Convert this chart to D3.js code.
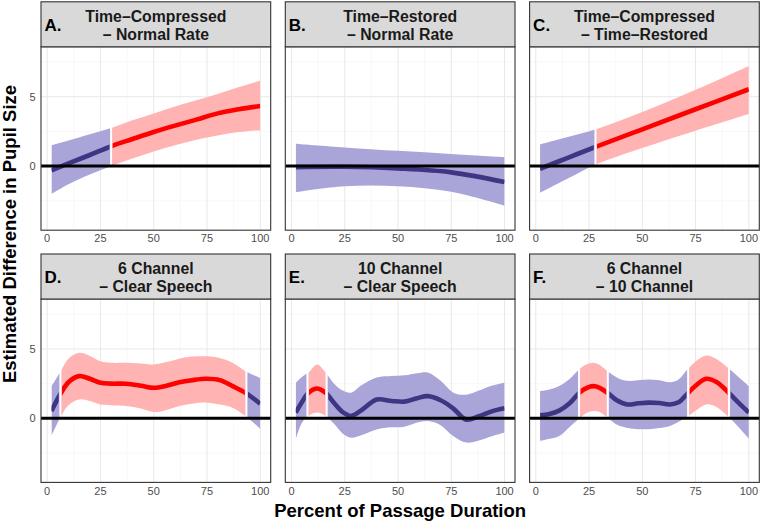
<!DOCTYPE html>
<html><head><meta charset="utf-8">
<script src="https://cdn.jsdelivr.net/npm/d3@7"></script>
<style>
html,body{margin:0;padding:0;background:#fff;}
svg{display:block;font-family:"Liberation Sans",Arial,Helvetica,sans-serif;}
</style></head>
<body><svg id="chart" width="762" height="522"></svg>
<script>
// ---------- data ----------
const xTicks = [0, 25, 50, 75, 100];
const yTicks = [0, 5];
const xLabel = "Percent of Passage Duration";
const yLabel = "Estimated Difference in Pupil Size";
const panelLetters = ["A.", "B.", "C.", "D.", "E.", "F."];
const titleLine1 = ["Time\u2013Compressed", "Time\u2013Restored", "Time\u2013Compressed", "6 Channel", "10 Channel", "6 Channel"];
const titleLine2 = ["\u2013 Normal Rate", "\u2013 Normal Rate", "\u2013 Time\u2013Restored", "\u2013 Clear Speech", "\u2013 Clear Speech", "\u2013 10 Channel"];

// A. Time-Compressed - Normal Rate
const xA   = [2, 10, 20, 30, 40, 50, 60, 70, 80, 90, 100];
const fitA = [-0.3, 0.2, 0.8, 1.43, 1.95, 2.46, 2.92, 3.35, 3.8, 4.1, 4.33];
const loA  = [-2.0, -1.3, -0.6, 0.0, 0.55, 1.05, 1.5, 1.9, 2.2, 2.45, 2.59];
const hiA  = [1.5, 1.85, 2.3, 2.75, 3.3, 3.8, 4.3, 4.75, 5.2, 5.7, 6.16];
const segA = [2, 30, 100];
const sigA = [0, 1];

// B. Time-Restored - Normal Rate
const xB   = [2, 25, 50, 75, 100];
const fitB = [-0.07, -0.05, -0.17, -0.45, -1.15];
const loB  = [-1.88, -1.45, -1.45, -1.85, -2.85];
const hiB  = [1.62, 1.35, 1.1, 0.88, 0.65];
const segB = [2, 100];
const sigB = [0];

// C. Time-Compressed - Time-Restored
const xC   = [2, 15, 28, 50, 75, 100];
const fitC = [-0.19, 0.6, 1.38, 2.65, 4.1, 5.54];
const loC  = [-1.93, -0.9, 0.1, 1.3, 2.55, 3.75];
const hiC  = [1.57, 2.1, 2.64, 3.9, 5.5, 7.22];
const segC = [2, 28, 100];
const sigC = [0, 1];

// D. 6 Channel - Clear Speech
const xD   = [2, 6, 10, 15, 20, 25, 30, 37, 44, 50, 56, 62, 68, 75, 81, 87, 93, 100];
const fitD = [0.52, 1.7, 2.6, 3.04, 2.85, 2.56, 2.5, 2.49, 2.35, 2.2, 2.35, 2.6, 2.75, 2.85, 2.75, 2.32, 1.84, 1.05];
const loD  = [-1.27, 0.0, 0.95, 1.36, 1.25, 1.0, 0.95, 0.88, 0.7, 0.45, 0.6, 0.88, 1.05, 1.13, 1.0, 0.77, 0.17, -0.75];
const hiD  = [2.3, 3.3, 4.3, 4.72, 4.5, 4.11, 4.0, 4.0, 3.95, 3.88, 4.05, 4.3, 4.45, 4.47, 4.35, 4.0, 3.4, 2.9];
const segD = [2, 6.2, 93.5, 100];
const sigD = [0, 1, 0];

// E. 10 Channel - Clear Speech
const xE   = [2, 5, 8, 12, 16, 20, 24, 28, 33, 40, 47, 53, 59, 64, 70, 76, 82, 88, 94, 100];
const fitE = [0.41, 1.2, 1.84, 2.15, 1.84, 1.1, 0.45, 0.17, 0.6, 1.35, 1.25, 1.2, 1.45, 1.6, 1.3, 0.7, -0.1, 0.15, 0.5, 0.72];
const loE  = [-1.51, -0.3, 0.17, 0.41, 0.17, -0.4, -1.1, -1.4, -1.2, -0.8, -0.65, -0.6, -0.3, -0.2, -0.5, -1.3, -1.75, -1.6, -1.3, -1.03];
const hiE  = [2.56, 3.0, 3.3, 3.88, 3.3, 2.5, 2.0, 1.85, 2.4, 2.95, 3.05, 3.1, 3.25, 3.3, 2.7, 1.85, 1.7, 2.0, 2.35, 2.56];
const segE = [2, 7.5, 16.5, 100];
const sigE = [0, 1, 0];

// F. 6 Channel - 10 Channel
const xF   = [2, 6, 11, 16, 20.5, 24, 27, 30, 34, 38, 43, 48, 53, 58, 63, 67, 71, 75, 80, 85, 90.5, 95, 100];
const fitF = [0.22, 0.3, 0.55, 1.1, 1.85, 2.2, 2.32, 2.2, 1.8, 1.3, 1.0, 1.08, 1.13, 1.1, 1.0, 1.15, 1.75, 2.35, 2.85, 2.6, 1.84, 1.15, 0.41];
const loF  = [-1.63, -1.5, -1.27, -0.6, 0.0, 0.4, 0.52, 0.45, 0.0, -0.45, -0.7, -0.78, -0.79, -0.7, -0.55, -0.25, 0.1, 0.55, 1.0, 0.8, 0.1, -0.6, -1.46];
const hiF  = [1.96, 2.05, 2.32, 2.85, 3.55, 3.9, 4.0, 3.85, 3.35, 2.95, 2.7, 2.75, 2.8, 2.75, 2.6, 2.8, 3.5, 4.1, 4.52, 4.25, 3.6, 3.0, 2.32];
const segF = [2, 20.3, 33.8, 71.5, 90.7, 100];
const sigF = [0, 1, 0, 1, 0];

// ---------- assemble ----------
const panels = [
  {x: xA, fit: fitA, lo: loA, hi: hiA, seg: segA, sig: sigA},
  {x: xB, fit: fitB, lo: loB, hi: hiB, seg: segB, sig: sigB},
  {x: xC, fit: fitC, lo: loC, hi: hiC, seg: segC, sig: sigC},
  {x: xD, fit: fitD, lo: loD, hi: hiD, seg: segD, sig: sigD},
  {x: xE, fit: fitE, lo: loE, hi: hiE, seg: segE, sig: sigE},
  {x: xF, fit: fitF, lo: loF, hi: hiF, seg: segF, sig: sigF}
];

const lineCol = ["#3f3683", "#ff0000"];
const ribCol  = ["#a9a5d8", "#ffb3b3"];

const svg = d3.select("#chart");
const colLeft = [41, 285.3, 529.6];
const panelW = 229.7;
const rowStripTop = [1.8, 254];
const stripH = 45;
const panelH = 183.4;

const x = d3.scaleLinear().domain([-2.9, 104.9]).range([0, panelW]);
const y = d3.scaleLinear().domain([-4.62, 8.6]).range([panelH, 0]);

const defs = svg.append("defs");

panels.forEach((p, i) => {
  const c = i % 3, r = Math.floor(i / 3);
  const left = colLeft[c];
  const stripTop = rowStripTop[r];
  const top = stripTop + stripH;
  const g = svg.append("g").attr("transform", `translate(${left},${top})`);

  // background grid
  const minorX = d3.range(12.5, 100, 25);
  const minorY = [-2.5, 2.5, 7.5];
  g.append("rect").attr("width", panelW).attr("height", panelH).attr("fill", "#fff");
  g.selectAll(".mgx").data(minorX).join("line").attr("class", "mgx")
    .attr("x1", d => x(d)).attr("x2", d => x(d)).attr("y1", 0).attr("y2", panelH)
    .attr("stroke", "#f3f3f3").attr("stroke-width", 0.6);
  g.selectAll(".mgy").data(minorY).join("line").attr("class", "mgy")
    .attr("x1", 0).attr("x2", panelW).attr("y1", d => y(d)).attr("y2", d => y(d))
    .attr("stroke", "#f3f3f3").attr("stroke-width", 0.6);
  g.selectAll(".gx").data(xTicks).join("line").attr("class", "gx")
    .attr("x1", d => x(d)).attr("x2", d => x(d)).attr("y1", 0).attr("y2", panelH)
    .attr("stroke", "#e8e8e8").attr("stroke-width", 1);
  g.selectAll(".gy").data(yTicks).join("line").attr("class", "gy")
    .attr("x1", 0).attr("x2", panelW).attr("y1", d => y(d)).attr("y2", d => y(d))
    .attr("stroke", "#e8e8e8").attr("stroke-width", 1);

  const pts = p.x.map((xv, k) => ({x: xv, fit: p.fit[k], lo: p.lo[k], hi: p.hi[k]}));
  const curve = d3.curveCatmullRom.alpha(0.5);
  const area = d3.area().x(d => x(d.x)).y0(d => y(d.lo)).y1(d => y(d.hi)).curve(curve);
  const line = d3.line().x(d => x(d.x)).y(d => y(d.fit)).curve(curve);

  // ribbons, one per significance segment
  for (let s = 0; s < p.sig.length; s++) {
    const a = p.seg[s], b = p.seg[s + 1];
    const gapL = s === 0 ? 0 : 1.0;
    const gapR = s === p.sig.length - 1 ? 0 : 1.0;
    const x0 = x(a) + gapL, x1 = x(b) - gapR;
    const idR = `clipR${i}_${s}`;
    defs.append("clipPath").attr("id", idR).append("rect")
      .attr("x", x0).attr("y", -10).attr("width", Math.max(0, x1 - x0)).attr("height", panelH + 20);
    g.append("path").datum(pts).attr("d", area)
      .attr("fill", ribCol[p.sig[s]]).attr("clip-path", `url(#${idR})`);
  }
  // fitted lines, one per segment
  for (let s = 0; s < p.sig.length; s++) {
    const a = p.seg[s], b = p.seg[s + 1];
    const gapL = s === 0 ? 0 : 1.6;
    const gapR = s === p.sig.length - 1 ? 0 : 1.6;
    const x0 = x(a) + gapL, x1 = x(b) - gapR;
    const idL = `clipL${i}_${s}`;
    defs.append("clipPath").attr("id", idL).append("rect")
      .attr("x", x0).attr("y", -10).attr("width", Math.max(0, x1 - x0)).attr("height", panelH + 20);
    g.append("path").datum(pts).attr("d", line)
      .attr("fill", "none").attr("stroke", lineCol[p.sig[s]]).attr("stroke-width", 4.6)
      .attr("clip-path", `url(#${idL})`);
  }

  // zero line
  g.append("line").attr("x1", 0).attr("x2", panelW).attr("y1", y(0)).attr("y2", y(0))
    .attr("stroke", "#000").attr("stroke-width", 3);

  // border
  g.append("rect").attr("width", panelW).attr("height", panelH)
    .attr("fill", "none").attr("stroke", "#333").attr("stroke-width", 1.1);

  // strip
  const sg = svg.append("g").attr("transform", `translate(${left},${stripTop})`);
  sg.append("rect").attr("width", panelW).attr("height", stripH)
    .attr("fill", "#d9d9d9").attr("stroke", "#333").attr("stroke-width", 1.1);
  sg.append("text").attr("x", panelW / 2).attr("y", 20).attr("text-anchor", "middle")
    .attr("font-size", 15.8).attr("font-weight", "bold").attr("fill", "#1a1a1a").text(titleLine1[i]);
  sg.append("text").attr("x", panelW / 2).attr("y", 38.3).attr("text-anchor", "middle")
    .attr("font-size", 15.8).attr("font-weight", "bold").attr("fill", "#1a1a1a").text(titleLine2[i]);
  sg.append("text").attr("x", 3.5).attr("y", 29).attr("text-anchor", "start")
    .attr("font-size", 17).attr("font-weight", "bold").attr("fill", "#000").text(panelLetters[i]);

  // x axis labels
  g.selectAll(".xt").data(xTicks).join("text").attr("class", "xt")
    .attr("x", d => x(d)).attr("y", panelH + 12.2).attr("text-anchor", "middle")
    .attr("font-size", 11).attr("fill", "#4d4d4d").text(d => d);

  // y axis labels (left column only)
  if (c === 0) {
    g.selectAll(".yt").data(yTicks).join("text").attr("class", "yt")
      .attr("x", -5.5).attr("y", d => y(d)).attr("dy", "0.36em").attr("text-anchor", "end")
      .attr("font-size", 11).attr("fill", "#4d4d4d").text(d => d);
  }
});

// axis titles
svg.append("text").attr("x", (colLeft[0] + colLeft[2] + panelW) / 2).attr("y", 516.5)
  .attr("text-anchor", "middle").attr("font-size", 18.5).attr("font-weight", "bold")
  .attr("fill", "#000").text(xLabel);
svg.append("text").attr("transform", `translate(16,234) rotate(-90)`)
  .attr("text-anchor", "middle").attr("font-size", 18.5).attr("font-weight", "bold")
  .attr("fill", "#000").text(yLabel);
</script>
</body></html>
